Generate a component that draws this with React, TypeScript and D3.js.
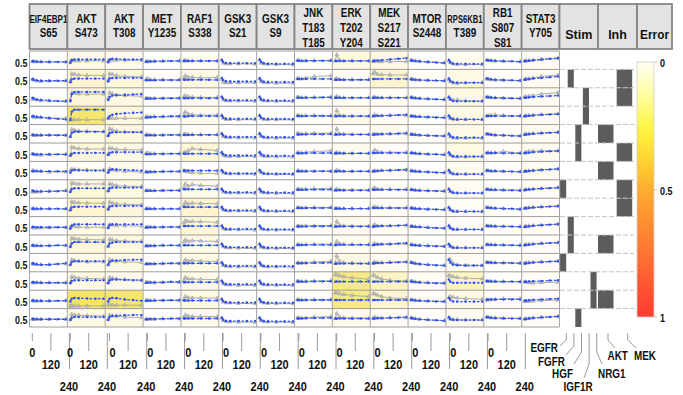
import React from "react";
import * as d3 from "d3";

const readoutLabels: string[][] = [
  ["EIF4EBP1", "S65"], ["AKT", "S473"], ["AKT", "T308"], ["MET", "Y1235"], ["RAF1", "S338"],
  ["GSK3", "S21"], ["GSK3", "S9"], ["JNK", "T183", "T185"], ["ERK", "T202", "Y204"],
  ["MEK", "S217", "S221"], ["MTOR", "S2448"], ["RPS6KB1", "T389"], ["RB1", "S807", "S81"], ["STAT3", "Y705"],
];
const sideHeaders = ["Stim", "Inh", "Error"];
const stimuli = ["EGFR", "FGFR", "HGF", "IGF1R", "NRG1"];
const inhibitors = ["AKT", "MEK"];
const simTimes = [0, 10, 30, 60, 120, 180, 240];
const dataTimes = [0, 10, 30, 60, 120, 240];
const timeTicks = [0, 120, 240];
const rowLabel = "0.5";
const errorTicks = [0, 0.5, 1];

const stimMatrix = [
  [0,0,0,0,0],[0,1,0,0,0],[0,0,0,1,0],[0,0,0,1,0],[0,0,1,0,0],[0,0,1,0,0],[0,0,0,0,0],[1,0,0,0,0],
  [0,0,0,0,0],[0,1,0,0,0],[0,1,0,0,0],[1,0,0,0,0],[0,0,0,0,1],[0,0,0,0,1],[0,0,1,0,0],
];
const inhMatrix = [
  [0,0],[0,1],[0,1],[0,0],[1,0],[0,1],[1,0],[0,1],[0,1],[0,0],[1,0],[0,0],[0,0],[1,0],[0,0],
];

// rows x readouts
const errorMatrix = [
  [.01,.05,.04,0,.02,0,0,.01,.06,.06,.01,.03,.01,.03],
  [0,.1,.08,.01,.06,0,0,.01,.02,.1,.02,.06,.01,.03],
  [0,.08,.06,0,.03,0,0,0,.01,.02,.01,.06,.01,.03],
  [0,.28,.08,.01,.04,0,0,.01,.05,.02,.01,.06,.02,.03],
  [0,.06,.07,0,.02,0,0,.01,.01,.03,.01,.05,.01,.03],
  [0,.08,.06,0,.08,0,0,.02,.04,.02,.01,.06,.02,.03],
  [0,.02,.04,0,.01,0,0,0,.01,.01,0,.03,.01,.03],
  [0,.08,.06,0,.05,0,0,.01,.01,.02,.01,.03,.01,.02],
  [0,.1,.08,0,.1,0,0,.01,.01,.02,.01,.02,.01,.02],
  [0,.05,.05,0,.08,0,0,.01,.04,.02,.01,.02,.01,.02],
  [0,.08,.07,0,.06,0,0,.01,.03,.02,.01,.02,.01,.02],
  [0,.05,.06,0,.06,0,0,.02,.06,.03,.01,.03,.01,.02],
  [0,.06,.05,0,.05,0,0,.01,.24,.12,.02,.12,.01,.02],
  [0,.3,.28,0,.06,0,0,.01,.24,.1,.02,.05,.02,.02],
  [0,.06,.06,0,.04,0,0,.02,.04,.02,.01,.03,.01,.02],
];

const simEIF4EBP1 = [
  [.42,.42,.4,.4,.38,.38,.38],[.45,.4,.36,.35,.35,.35,.35],[.45,.4,.33,.3,.25,.22,.22],[.45,.42,.4,.38,.32,.26,.22],
  [.42,.4,.4,.4,.4,.4,.4],[.4,.36,.35,.35,.35,.35,.35],[.45,.45,.45,.45,.45,.45,.45],[.4,.35,.33,.33,.33,.35,.38],
  [.42,.4,.4,.4,.4,.4,.4],[.42,.42,.4,.4,.4,.4,.4],[.42,.4,.4,.4,.4,.42,.42],[.45,.42,.38,.35,.35,.4,.45],
  [.42,.4,.4,.38,.38,.38,.38],[.42,.4,.4,.4,.4,.4,.42],[.42,.4,.4,.4,.4,.4,.4],
];
const datEIF4EBP1 = [
  [.4,.4,.4,.38,.38,.38],[.45,.42,.35,.3,.33,.35],[.35,.35,.3,.25,.22,.2],[.4,.38,.35,.35,.3,.3],
  [.42,.4,.4,.4,.42,.4],[.38,.35,.3,.3,.32,.35],[.5,.5,.48,.45,.4,.4],[.3,.3,.3,.32,.35,.38],
  [.4,.4,.4,.4,.4,.4],[.38,.35,.35,.35,.35,.38],[.4,.4,.4,.38,.4,.4],[.4,.4,.38,.35,.38,.42],
  [.38,.38,.38,.38,.38,.38],[.4,.4,.38,.38,.38,.4],[.4,.4,.4,.4,.4,.4],
];
const simAKT_S473 = [
  [.3,.5,.55,.55,.55,.55,.55],[.25,.45,.5,.5,.5,.5,.5],[.2,.7,.85,.85,.85,.85,.85],[.2,.75,.9,.9,.9,.9,.9],
  [.3,.55,.65,.65,.65,.65,.65],[.25,.4,.45,.45,.45,.45,.45],[.35,.5,.55,.52,.5,.5,.5],[.3,.5,.55,.55,.55,.55,.55],
  [.3,.5,.55,.55,.55,.55,.55],[.3,.5,.6,.6,.6,.6,.6],[.3,.55,.65,.65,.65,.65,.65],[.35,.55,.6,.6,.6,.6,.6],
  [.35,.5,.55,.55,.55,.55,.55],[.35,.55,.6,.58,.56,.55,.55],[.35,.5,.55,.55,.55,.55,.55],
];
const datAKT_S473 = [
  [.42,.48,.46,.45,.45,.45],[.3,.85,.8,.75,.72,.72],[.3,.8,.75,.72,.7,.7],[.18,.2,.2,.2,.2,.2],
  [.3,.8,.75,.7,.68,.65],[.3,.85,.8,.75,.72,.72],[.5,.6,.58,.55,.55,.55],[.35,.92,.88,.85,.85,.85],
  [.35,.9,.85,.82,.8,.8],[.4,.5,.45,.42,.4,.4],[.4,.92,.88,.85,.82,.8],[.35,.7,.65,.6,.55,.55],
  [.4,.8,.75,.7,.68,.65],[.05,.06,.05,.05,.05,.05],[.4,.75,.7,.68,.65,.62],
];
const simAKT_T308 = [
  [.35,.55,.6,.58,.55,.55,.55],[.3,.5,.55,.55,.55,.55,.55],[.3,.5,.6,.62,.65,.68,.7],[.3,.45,.55,.6,.65,.68,.7],
  [.35,.55,.6,.6,.6,.6,.6],[.3,.45,.5,.5,.5,.5,.5],[.35,.55,.6,.58,.55,.52,.5],[.35,.55,.6,.6,.6,.6,.6],
  [.35,.55,.6,.6,.6,.6,.6],[.35,.55,.6,.6,.6,.6,.6],[.35,.55,.62,.65,.65,.65,.65],[.35,.55,.62,.65,.68,.7,.7],
  [.35,.55,.6,.6,.58,.56,.55],[.35,.55,.6,.58,.5,.45,.4],[.35,.55,.62,.65,.68,.7,.7],
];
const datAKT_T308 = [
  [.45,.5,.5,.5,.5,.5],[.4,.85,.8,.72,.65,.62],[.4,.8,.72,.65,.6,.55],[.3,.32,.3,.3,.3,.3],
  [.4,.85,.78,.7,.65,.62],[.35,.8,.75,.7,.68,.65],[.45,.62,.55,.5,.45,.4],[.4,.88,.82,.75,.7,.68],
  [.4,.88,.8,.75,.7,.68],[.4,.6,.55,.52,.5,.48],[.35,.85,.8,.75,.72,.7],[.35,.7,.65,.6,.55,.52],
  [.4,.75,.7,.65,.6,.55],[.12,.12,.1,.1,.1,.1],[.4,.7,.65,.6,.55,.52],
];
const simMET = [
  [.4,.4,.42,.42,.44,.45,.46],[.38,.38,.38,.38,.4,.4,.4],[.4,.4,.4,.4,.42,.42,.42],[.35,.36,.38,.4,.42,.44,.46],
  [.4,.4,.4,.4,.42,.42,.42],[.35,.36,.36,.38,.38,.4,.4],[.4,.4,.42,.42,.44,.44,.45],[.38,.38,.38,.38,.4,.4,.4],
  [.4,.4,.4,.4,.4,.4,.4],[.38,.38,.4,.4,.42,.42,.42],[.38,.38,.4,.4,.42,.42,.42],[.4,.4,.42,.42,.44,.46,.46],
  [.38,.38,.4,.4,.42,.44,.45],[.4,.4,.42,.42,.44,.44,.45],[.4,.4,.42,.42,.44,.45,.46],
];
const datMET = [
  [.4,.42,.4,.42,.42,.44],[.45,.5,.45,.42,.42,.42],[.4,.42,.4,.4,.4,.42],[.4,.42,.4,.4,.4,.4],
  [.42,.45,.42,.4,.4,.42],[.42,.45,.42,.4,.4,.4],[.4,.4,.4,.4,.42,.42],[.38,.4,.4,.38,.38,.4],
  [.4,.42,.4,.4,.4,.4],[.4,.42,.42,.4,.4,.4],[.38,.4,.38,.38,.4,.4],[.4,.42,.4,.4,.42,.42],
  [.4,.42,.4,.38,.4,.4],[.42,.44,.42,.42,.42,.42],[.4,.42,.4,.4,.42,.42],
];
const simRAF1 = [
  [.45,.45,.45,.45,.45,.45,.45],[.42,.42,.42,.42,.42,.42,.4],[.42,.42,.42,.42,.42,.42,.42],[.42,.42,.44,.45,.45,.45,.45],
  [.42,.42,.42,.42,.42,.42,.42],[.4,.4,.4,.4,.4,.4,.4],[.5,.5,.5,.5,.5,.5,.5],[.48,.48,.48,.48,.48,.48,.48],
  [.52,.52,.52,.52,.52,.52,.52],[.48,.48,.48,.48,.48,.48,.48],[.42,.42,.42,.42,.42,.42,.42],[.45,.45,.45,.45,.45,.45,.45],
  [.42,.42,.42,.42,.42,.42,.42],[.42,.42,.42,.42,.42,.42,.42],[.45,.45,.45,.45,.45,.45,.45],
];
const datRAF1 = [
  [.45,.5,.45,.45,.45,.45],[.55,.7,.6,.6,.55,.58],[.5,.6,.52,.5,.48,.48],[.55,.75,.6,.55,.52,.52],
  [.45,.5,.45,.45,.45,.45],[.45,.5,.6,.75,.7,.62],[.5,.45,.4,.35,.32,.3],[.6,.85,.7,.8,.75,.7],
  [.65,.85,.75,.8,.78,.75],[.7,.85,.8,.8,.78,.75],[.65,.8,.7,.75,.72,.7],[.5,.7,.6,.65,.6,.58],
  [.55,.75,.65,.65,.62,.6],[.5,.7,.62,.6,.6,.58],[.55,.7,.62,.6,.6,.58],
];
const simGSK3_S21 = [
  [.52,.38,.3,.29,.29,.29,.29],[.55,.4,.32,.3,.3,.3,.3],[.5,.36,.28,.27,.27,.27,.27],[.5,.35,.27,.26,.26,.26,.26],
  [.52,.38,.3,.28,.28,.28,.28],[.5,.36,.28,.27,.27,.27,.27],[.52,.4,.32,.3,.3,.3,.3],[.5,.36,.28,.27,.27,.27,.27],
  [.52,.38,.3,.29,.29,.29,.29],[.5,.36,.28,.27,.27,.27,.27],[.52,.38,.3,.28,.28,.28,.28],[.5,.36,.28,.27,.27,.27,.27],
  [.5,.36,.28,.27,.27,.27,.27],[.52,.38,.3,.28,.28,.28,.28],[.5,.36,.28,.27,.27,.27,.27],
];
const datGSK3_S21 = [
  [.5,.3,.25,.25,.25,.22],[.45,.25,.2,.2,.2,.2],[.5,.3,.25,.22,.22,.2],[.48,.3,.22,.22,.2,.2],
  [.5,.32,.25,.25,.22,.2],[.45,.28,.22,.2,.2,.18],[.5,.35,.3,.28,.28,.25],[.48,.3,.25,.22,.22,.2],
  [.5,.32,.28,.25,.25,.22],[.48,.3,.25,.25,.22,.2],[.5,.32,.26,.25,.22,.2],[.48,.3,.25,.22,.2,.2],
  [.5,.3,.25,.22,.2,.18],[.5,.32,.26,.25,.22,.2],[.48,.3,.24,.22,.2,.18],
];
const simGSK3_S9 = [
  [.55,.38,.28,.26,.25,.25,.25],[.52,.36,.28,.26,.26,.26,.26],[.5,.35,.27,.25,.25,.25,.25],[.5,.35,.26,.25,.25,.25,.25],
  [.52,.36,.28,.26,.26,.26,.26],[.5,.35,.27,.25,.25,.25,.25],[.55,.4,.3,.28,.28,.28,.28],[.5,.35,.27,.25,.25,.25,.25],
  [.52,.38,.28,.26,.26,.26,.26],[.5,.35,.27,.25,.25,.25,.25],[.52,.36,.28,.26,.26,.26,.26],[.5,.35,.27,.25,.25,.25,.25],
  [.5,.35,.27,.25,.25,.25,.25],[.52,.36,.28,.26,.26,.26,.26],[.5,.35,.27,.25,.25,.25,.25],
];
const datGSK3_S9 = [
  [.5,.3,.25,.22,.2,.18],[.48,.28,.22,.2,.18,.18],[.5,.3,.24,.22,.2,.18],[.5,.3,.22,.2,.2,.18],
  [.5,.32,.25,.22,.2,.2],[.48,.28,.22,.2,.18,.16],[.5,.35,.3,.28,.25,.22],[.48,.3,.24,.22,.2,.18],
  [.5,.32,.26,.24,.22,.2],[.48,.3,.24,.22,.2,.2],[.5,.3,.25,.22,.2,.2],[.48,.3,.24,.2,.2,.18],
  [.5,.3,.24,.22,.2,.18],[.5,.32,.25,.22,.2,.2],[.48,.3,.24,.22,.2,.18],
];
const simJNK = [
  [.46,.46,.46,.46,.47,.47,.48],[.48,.48,.48,.48,.48,.48,.48],[.45,.45,.45,.46,.46,.47,.47],[.45,.45,.45,.45,.46,.46,.46],
  [.46,.46,.46,.46,.47,.47,.48],[.42,.42,.42,.43,.44,.44,.45],[.46,.46,.46,.46,.46,.46,.46],[.45,.45,.45,.45,.46,.46,.46],
  [.45,.45,.45,.46,.46,.46,.47],[.46,.46,.46,.46,.47,.47,.48],[.45,.45,.45,.45,.46,.46,.46],[.45,.45,.46,.46,.47,.48,.5],
  [.46,.46,.46,.46,.47,.47,.48],[.45,.45,.45,.45,.46,.46,.46],[.46,.46,.46,.47,.48,.49,.5],
];
const datJNK = [
  [.5,.48,.45,.46,.46,.48],[.52,.5,.48,.55,.65,.7],[.5,.48,.46,.46,.48,.5],[.5,.48,.46,.48,.5,.5],
  [.55,.5,.5,.52,.55,.55],[.48,.46,.45,.5,.55,.6],[.5,.48,.46,.46,.46,.46],[.5,.48,.48,.5,.52,.55],
  [.5,.48,.46,.48,.5,.5],[.5,.48,.48,.5,.5,.52],[.48,.46,.46,.48,.5,.5],[.5,.48,.48,.5,.55,.6],
  [.5,.48,.46,.48,.5,.52],[.48,.46,.45,.46,.48,.5],[.5,.5,.48,.5,.55,.58],
];
const simERK = [
  [.45,.45,.45,.45,.45,.45,.45],[.42,.42,.42,.42,.42,.42,.42],[.44,.44,.44,.44,.44,.44,.44],[.45,.45,.45,.45,.45,.45,.45],
  [.45,.46,.46,.46,.46,.46,.46],[.42,.42,.42,.42,.42,.42,.42],[.45,.45,.45,.45,.45,.45,.45],[.42,.42,.42,.42,.42,.42,.42],
  [.42,.42,.42,.42,.42,.42,.42],[.45,.46,.46,.46,.46,.46,.46],[.45,.46,.46,.46,.46,.46,.46],[.42,.43,.43,.43,.43,.43,.43],
  [.45,.46,.46,.46,.46,.46,.46],[.45,.46,.46,.46,.46,.46,.46],[.45,.45,.45,.45,.45,.45,.45],
];
const datERK = [
  [.45,.88,.5,.45,.45,.45],[.45,.5,.45,.42,.42,.42],[.45,.55,.48,.45,.45,.45],[.45,.85,.5,.45,.45,.45],
  [.45,.85,.5,.48,.45,.45],[.42,.5,.45,.42,.42,.42],[.45,.55,.48,.45,.45,.45],[.42,.5,.45,.42,.42,.42],
  [.42,.45,.42,.42,.42,.42],[.45,.8,.55,.5,.48,.48],[.45,.7,.55,.5,.48,.48],[.45,.98,.6,.5,.48,.45],
  [.95,.92,.88,.8,.72,.62],[.95,.95,.9,.85,.78,.7],[.45,.8,.55,.5,.48,.45],
];
const simMEK = [
  [.45,.46,.48,.5,.55,.6,.65],[.48,.48,.48,.48,.48,.48,.48],[.45,.45,.45,.45,.45,.45,.45],[.45,.46,.47,.48,.5,.52,.55],
  [.45,.46,.47,.48,.5,.52,.55],[.45,.45,.45,.45,.45,.45,.45],[.45,.46,.48,.5,.52,.55,.58],[.45,.45,.45,.45,.45,.45,.45],
  [.45,.45,.45,.45,.45,.45,.45],[.45,.46,.47,.48,.5,.52,.55],[.45,.46,.48,.5,.52,.55,.58],[.45,.46,.47,.48,.5,.52,.55],
  [.45,.46,.46,.46,.46,.46,.46],[.45,.46,.46,.46,.46,.46,.46],[.45,.46,.47,.48,.5,.52,.55],
];
const datMEK = [
  [.42,.45,.42,.4,.4,.42],[.85,.95,.8,.78,.75,.75],[.45,.5,.45,.45,.45,.45],[.45,.55,.48,.48,.5,.5],
  [.45,.5,.48,.48,.48,.5],[.5,.65,.55,.5,.5,.5],[.45,.5,.48,.5,.5,.52],[.5,.6,.5,.48,.48,.48],
  [.5,.55,.5,.48,.48,.48],[.45,.6,.5,.5,.5,.52],[.45,.55,.5,.5,.5,.52],[.45,.55,.5,.5,.52,.55],
  [.9,.85,.75,.65,.55,.5],[.9,.88,.8,.7,.6,.55],[.45,.55,.5,.48,.5,.5],
];
const simMTOR = [
  [.48,.47,.45,.42,.38,.34,.3],[.45,.44,.42,.4,.38,.36,.35],[.46,.45,.43,.4,.37,.34,.32],[.45,.44,.42,.4,.38,.36,.34],
  [.46,.45,.43,.41,.38,.36,.34],[.45,.44,.42,.4,.37,.35,.33],[.48,.47,.45,.43,.4,.37,.35],[.45,.44,.42,.4,.38,.36,.34],
  [.45,.44,.42,.4,.38,.36,.34],[.46,.45,.43,.41,.38,.35,.33],[.46,.45,.43,.41,.38,.36,.34],[.5,.48,.44,.4,.35,.32,.3],
  [.46,.45,.43,.4,.37,.35,.34],[.46,.45,.43,.4,.38,.36,.35],[.48,.46,.43,.4,.36,.33,.3],
];
const datMTOR = [
  [.5,.48,.45,.42,.38,.32],[.48,.46,.42,.4,.38,.35],[.48,.45,.42,.4,.36,.32],[.46,.45,.44,.42,.4,.36],
  [.48,.46,.44,.4,.38,.35],[.46,.45,.42,.4,.36,.33],[.5,.48,.45,.44,.4,.36],[.46,.45,.42,.4,.38,.36],
  [.46,.44,.42,.4,.38,.35],[.48,.46,.44,.42,.38,.34],[.48,.46,.44,.42,.4,.36],[.52,.5,.45,.4,.36,.3],
  [.5,.48,.44,.42,.38,.36],[.48,.46,.44,.42,.4,.36],[.5,.48,.44,.4,.36,.3],
];
const simRPS6KB1 = [
  [.52,.35,.25,.24,.24,.24,.24],[.5,.34,.24,.22,.22,.22,.22],[.48,.32,.22,.2,.2,.2,.2],[.48,.32,.23,.22,.22,.22,.22],
  [.5,.34,.25,.24,.24,.24,.24],[.48,.32,.22,.2,.2,.2,.2],[.52,.36,.27,.26,.26,.26,.26],[.5,.34,.24,.22,.22,.22,.22],
  [.5,.34,.24,.22,.22,.22,.22],[.5,.35,.26,.25,.25,.25,.25],[.5,.35,.26,.25,.25,.25,.25],[.7,.5,.35,.32,.3,.3,.3],
  [.6,.45,.38,.38,.38,.38,.38],[.6,.45,.36,.35,.35,.35,.35],[.55,.4,.35,.34,.34,.34,.34],
];
const datRPS6KB1 = [
  [.48,.32,.25,.22,.2,.2],[.45,.3,.2,.18,.2,.22],[.5,.35,.28,.3,.25,.22],[.45,.3,.25,.22,.22,.2],
  [.48,.3,.22,.2,.2,.2],[.45,.3,.2,.18,.18,.2],[.5,.35,.28,.25,.25,.25],[.48,.32,.25,.22,.22,.22],
  [.48,.32,.24,.22,.2,.2],[.5,.35,.26,.25,.24,.24],[.5,.35,.28,.26,.25,.25],[.72,.7,.45,.35,.32,.3],
  [.88,.85,.8,.75,.7,.65],[.62,.7,.65,.6,.55,.52],[.5,.42,.4,.38,.36,.36],
];
const simRB1 = [
  [.52,.5,.48,.46,.44,.42,.4],[.5,.48,.45,.42,.4,.38,.36],[.5,.49,.47,.45,.43,.41,.4],[.46,.46,.45,.45,.45,.45,.45],
  [.5,.48,.45,.42,.4,.37,.35],[.45,.45,.44,.44,.43,.43,.42],[.5,.5,.48,.47,.45,.44,.42],[.48,.47,.45,.44,.43,.42,.4],
  [.5,.48,.46,.44,.42,.4,.38],[.5,.49,.48,.47,.46,.45,.44],[.48,.47,.46,.45,.44,.43,.42],[.52,.51,.5,.49,.48,.47,.46],
  [.5,.49,.48,.47,.46,.46,.45],[.5,.5,.5,.5,.5,.5,.5],[.55,.53,.51,.49,.47,.46,.45],
];
const datRB1 = [
  [.5,.48,.46,.44,.42,.4],[.48,.46,.42,.4,.38,.36],[.5,.48,.46,.44,.42,.4],[.46,.48,.5,.55,.5,.46],
  [.48,.46,.44,.4,.38,.35],[.45,.46,.45,.48,.55,.45],[.5,.48,.46,.46,.44,.42],[.48,.46,.45,.44,.42,.4],
  [.5,.48,.46,.44,.42,.38],[.5,.48,.48,.46,.46,.44],[.48,.46,.46,.45,.44,.42],[.52,.5,.5,.48,.48,.46],
  [.5,.48,.48,.46,.46,.45],[.45,.46,.48,.5,.55,.55],[.55,.52,.5,.48,.46,.45],
];
const simSTAT3 = [
  [.42,.44,.46,.5,.55,.6,.65],[.42,.44,.46,.5,.55,.6,.65],[.44,.45,.47,.5,.54,.57,.6],[.44,.45,.47,.5,.54,.57,.6],
  [.44,.45,.47,.5,.54,.57,.6],[.44,.45,.47,.5,.53,.56,.58],[.44,.46,.48,.5,.55,.58,.62],[.42,.44,.46,.49,.53,.56,.6],
  [.42,.44,.46,.49,.53,.56,.6],[.42,.44,.46,.5,.54,.58,.62],[.42,.44,.46,.5,.54,.58,.62],[.44,.46,.48,.5,.54,.57,.6],
  [.44,.45,.46,.48,.5,.53,.55],[.4,.42,.44,.47,.5,.53,.55],[.4,.42,.45,.48,.52,.56,.6],
];
const datSTAT3 = [
  [.45,.46,.48,.5,.55,.62],[.45,.48,.5,.55,.65,.75],[.5,.52,.55,.6,.7,.8],[.45,.48,.5,.52,.55,.6],
  [.45,.48,.5,.52,.56,.6],[.45,.5,.55,.58,.6,.6],[.45,.46,.48,.5,.55,.6],[.45,.46,.48,.5,.54,.58],
  [.45,.46,.48,.5,.54,.58],[.45,.48,.5,.52,.56,.6],[.45,.48,.5,.52,.56,.6],[.45,.48,.5,.52,.55,.6],
  [.45,.42,.38,.35,.38,.42],[.38,.36,.35,.38,.42,.45],[.42,.44,.46,.5,.55,.58],
];

const simSeries = [simEIF4EBP1, simAKT_S473, simAKT_T308, simMET, simRAF1, simGSK3_S21, simGSK3_S9,
  simJNK, simERK, simMEK, simMTOR, simRPS6KB1, simRB1, simSTAT3];
const datSeries = [datEIF4EBP1, datAKT_S473, datAKT_T308, datMET, datRAF1, datGSK3_S21, datGSK3_S9,
  datJNK, datERK, datMEK, datMTOR, datRPS6KB1, datRB1, datSTAT3];

const FONT = "'Liberation Sans', Arial, sans-serif";

function Txt(props: {x: number; y: number; text: string; size: number; anchor?: string; sx?: number; sy?: number; len?: number; fill?: string}) {
  const {x, y, text, size, anchor = "middle", sx = 1, sy = 1, len, fill = "#111"} = props;
  return (
    <text transform={`translate(${x},${y}) scale(${sx},${sy})`} fontFamily={FONT} fontWeight="bold"
      fontSize={size} textAnchor={anchor} fill={fill}
      {...(len ? {textLength: len, lengthAdjust: "spacingAndGlyphs"} : {})}>{text}</text>
  );
}

export default function App() {
  const W = 683, H = 395;
  const nRows = stimMatrix.length;
  const nCols = readoutLabels.length;
  const colX = d3.scaleBand<number>().domain(d3.range(nCols)).range([29.5, 559.5]);
  const rowY = d3.scaleBand<number>().domain(d3.range(nRows)).range([51, 327]);
  const cw = colX.bandwidth(), rh = rowY.bandwidth();
  const stimX = d3.scaleBand<string>().domain(stimuli).range([559.5, 597.5]);
  const inhX = d3.scaleBand<string>().domain(inhibitors).range([598, 635.4]);
  const sideBounds: [number, number][] = [[559.5, 598], [598, 637], [637, 672]];
  const errY = d3.scaleLinear().domain([0, 1]).range([62, 317]);
  const errColor = d3.scaleLinear<string>().domain([0, .12, .27, .4, .5, .75, 1])
    .range(["#fffff4", "#ffffa6", "#fff43a", "#ffcf30", "#ffac30", "#ff7430", "#ff3a30"]);
  const cellFill = d3.scaleLinear<string>().domain([0, .1, .3]).range(["#ffffff", "#fdf5cf", "#f5e465"]).clamp(true);
  const tri = d3.symbol().type(d3.symbolTriangle).size(6)() as string;

  const cells: React.ReactNode[] = [];
  for (let r = 0; r < nRows; r++) {
    for (let c = 0; c < nCols; c++) {
      const x0 = colX(c)!, y0 = rowY(r)!;
      const xs = d3.scaleLinear().domain([0, 240]).range([x0 + 3, x0 + cw - 1.5]);
      const ys = d3.scaleLinear().domain([0, 1]).range([y0 + rh - 2, y0 + 2]);
      const dat = datSeries[c][r], sim = simSeries[c][r];
      const line = d3.line<number>();
      const dPath = line(dat.map((v, i) => [xs(dataTimes[i]), ys(v)]) as any);
      const sPath = line(sim.map((v, i) => [xs(simTimes[i]), ys(v)]) as any);
      cells.push(
        <g key={`c${r}-${c}`}>
          <rect x={x0} y={y0} width={cw} height={rh} fill={cellFill(errorMatrix[r][c])} />
          <path d={dPath!} fill="none" stroke="#a6a6a6" strokeWidth={0.9} />
          {dat.map((v, i) => (
            <path key={i} d={tri} transform={`translate(${xs(dataTimes[i])},${ys(v)})`} fill="#c8c8c8" stroke="#8e8e8e" strokeWidth={0.5} />
          ))}
          <path d={sPath!} fill="none" stroke="#2f52f2" strokeWidth={1.3} strokeDasharray="2.6,1.6" />
          {sim.map((v, i) => (
            <circle key={i} cx={xs(simTimes[i])} cy={ys(v)} r={1.25} fill="#2f52f2" />
          ))}
        </g>
      );
    }
  }

  return (
    <svg width={W} height={H} style={{position: "absolute", left: 0, top: 0, background: "#fff"}}>
      <defs>
        <linearGradient id="errGrad" x1="0" y1="0" x2="0" y2="1">
          {d3.range(0, 1.0001, 0.05).map((t) => (
            <stop key={t} offset={`${t * 100}%`} stopColor={errColor(t)} />
          ))}
        </linearGradient>
      </defs>
      <rect x={0} y={0} width={W} height={H} fill="#fff" />

      {/* header */}
      {readoutLabels.map((lines, c) => {
        const x0 = colX(c)!;
        const ys = lines.length === 3 ? [17.3, 32, 46.5] : [23, 36.8];
        return (
          <g key={`h${c}`}>
            <rect x={x0} y={4} width={cw} height={45} fill="#e3e3e3" stroke="#858585" strokeWidth={1.8} />
            {lines.map((t, i) => {
              const long = t.length >= 7;
              return <Txt key={i} x={x0 + cw / 2} y={ys[i]} text={t} size={long ? 9.5 : 11}
                sx={long ? 1 : 0.9} sy={long ? 1.1 : 1.15} len={long ? (t === "EIF4EBP1" ? 38 : 35) : undefined} />;
            })}
          </g>
        );
      })}
      {sideHeaders.map((h, i) => (
        <g key={h}>
          <rect x={sideBounds[i][0]} y={4} width={sideBounds[i][1] - sideBounds[i][0]} height={45} fill="#e3e3e3" stroke="#858585" strokeWidth={1.8} />
          <Txt x={(sideBounds[i][0] + sideBounds[i][1]) / 2} y={39} text={h} size={12.5} sx={i === 2 ? 0.95 : 1} />
        </g>
      ))}

      {/* cells */}
      {cells}
      {/* grid lines */}
      {d3.range(nRows + 1).map((r) => {
        const y = r < nRows ? rowY(r)! : 327;
        return <line key={`rl${r}`} x1={29.5} x2={559.5} y1={y} y2={y} stroke="#9c9c9c" strokeWidth={1} />;
      })}
      {d3.range(nCols + 1).map((c) => {
        const x = c < nCols ? colX(c)! : 559.5;
        return <line key={`cl${c}`} x1={x} x2={x} y1={51} y2={327} stroke="#a4a4a4" strokeWidth={1} />;
      })}

      {/* row labels */}
      {d3.range(nRows).map((r) => (
        <Txt key={`yl${r}`} x={27.5} y={rowY(r)! + rh / 2 + 6.5} text={rowLabel} size={10.5} anchor="end" sx={0.85} sy={1.08} />
      ))}

      {/* stim / inh */}
      {stimMatrix.map((row, r) => row.map((v, i) => v ? (
        <rect key={`s${r}-${i}`} x={stimX(stimuli[i])! + 0.6} y={rowY(r)!} width={stimX.bandwidth() * 0.8} height={rh} fill="#5c5c5c" />
      ) : null))}
      {inhMatrix.map((row, r) => row.map((v, j) => v ? (
        <rect key={`i${r}-${j}`} x={inhX(inhibitors[j])!} y={rowY(r)!} width={15.5} height={rh} fill="#5c5c5c" />
      ) : null))}
      {d3.range(1, nRows).map((r) => (
        <line key={`sd${r}`} x1={560} x2={634} y1={rowY(r)!} y2={rowY(r)!} stroke="#c4c4c4" strokeWidth={1} strokeDasharray="5,2" />
      ))}

      {/* error colorbar */}
      <rect x={637} y={errY(0)} width={17} height={errY(1) - errY(0)} fill="url(#errGrad)" stroke="#d0d0d0" strokeWidth={0.8} />
      {errorTicks.map((t) => (
        <g key={`et${t}`}>
          <line x1={654} x2={657} y1={errY(t)} y2={errY(t)} stroke="#bbb" strokeWidth={0.8} />
          <Txt x={660} y={errY(t) + 5} text={String(t)} size={10} anchor="start" sx={0.9} sy={1.15} />
        </g>
      ))}

      {/* bottom time axes (last readout column carries none, as in the reference) */}
      {readoutLabels.slice(0, nCols - 1).map((_, c) => {
        const x0 = colX(c)!;
        const off = c < 2 ? 2.8 : 4.3;
        const xs = d3.scaleLinear().domain([0, 240]).range([x0 + off, x0 + off + 37.2]);
        const tickEnd = [341, 351, 369];
        const base = [357, 368.5, 390.5];
        const labelShift = [c < 2 ? 0 : 3, 0, -0.5];
        return (
          <g key={`ax${c}`}>
            {timeTicks.map((t, k) => (
              <g key={t}>
                <line x1={xs(t)} x2={xs(t)} y1={333} y2={tickEnd[k]} stroke="#9a9a9a" strokeWidth={1} />
                <Txt x={xs(t) + labelShift[k]} y={base[k]} text={String(t)} size={11} sy={1.22} />
              </g>
            ))}
          </g>
        );
      })}

      {/* stim / inh labels */}
      {(() => {
        const items = [
          {x: stimX("EGFR")! + stimX.bandwidth() / 2 + 3, bend: 340, lx: 560, ly: 346, tx: 558, ty: 352, anchor: "end", text: stimuli[0]},
          {x: stimX("FGFR")! + stimX.bandwidth() / 2 + 3, bend: 346, lx: 566, ly: 355, tx: 565, ty: 365.5, anchor: "end", text: stimuli[1]},
          {x: stimX("HGF")! + stimX.bandwidth() / 2 + 3, bend: 352, lx: 574, ly: 364, tx: 573, ty: 378, anchor: "end", text: stimuli[2]},
          {x: stimX("IGF1R")! + stimX.bandwidth() / 2 + 3, bend: 364, lx: 584, ly: 378, tx: 578, ty: 390.5, anchor: "middle", text: stimuli[3]},
          {x: stimX("NRG1")! + stimX.bandwidth() / 2 + 3, bend: 352, lx: 602, ly: 364, tx: 598, ty: 377.5, anchor: "start", text: stimuli[4]},
          {x: inhX("AKT")! + 10, bend: 340, lx: 615, ly: 348, tx: 607.5, ty: 359.5, anchor: "start", text: inhibitors[0]},
          {x: inhX("MEK")! + 11, bend: 340, lx: 636, ly: 348, tx: 634, ty: 359.5, anchor: "start", text: inhibitors[1]},
        ];
        return items.map((it) => (
          <g key={it.text + it.tx}>
            <polyline points={`${it.x},333 ${it.x},${it.bend} ${it.lx},${it.ly}`} fill="none" stroke="#9a9a9a" strokeWidth={1} />
            <Txt x={it.tx} y={it.ty} text={it.text} size={11} anchor={it.anchor} sx={0.9} sy={1.17} />
          </g>
        ));
      })()}
    </svg>
  );
}
